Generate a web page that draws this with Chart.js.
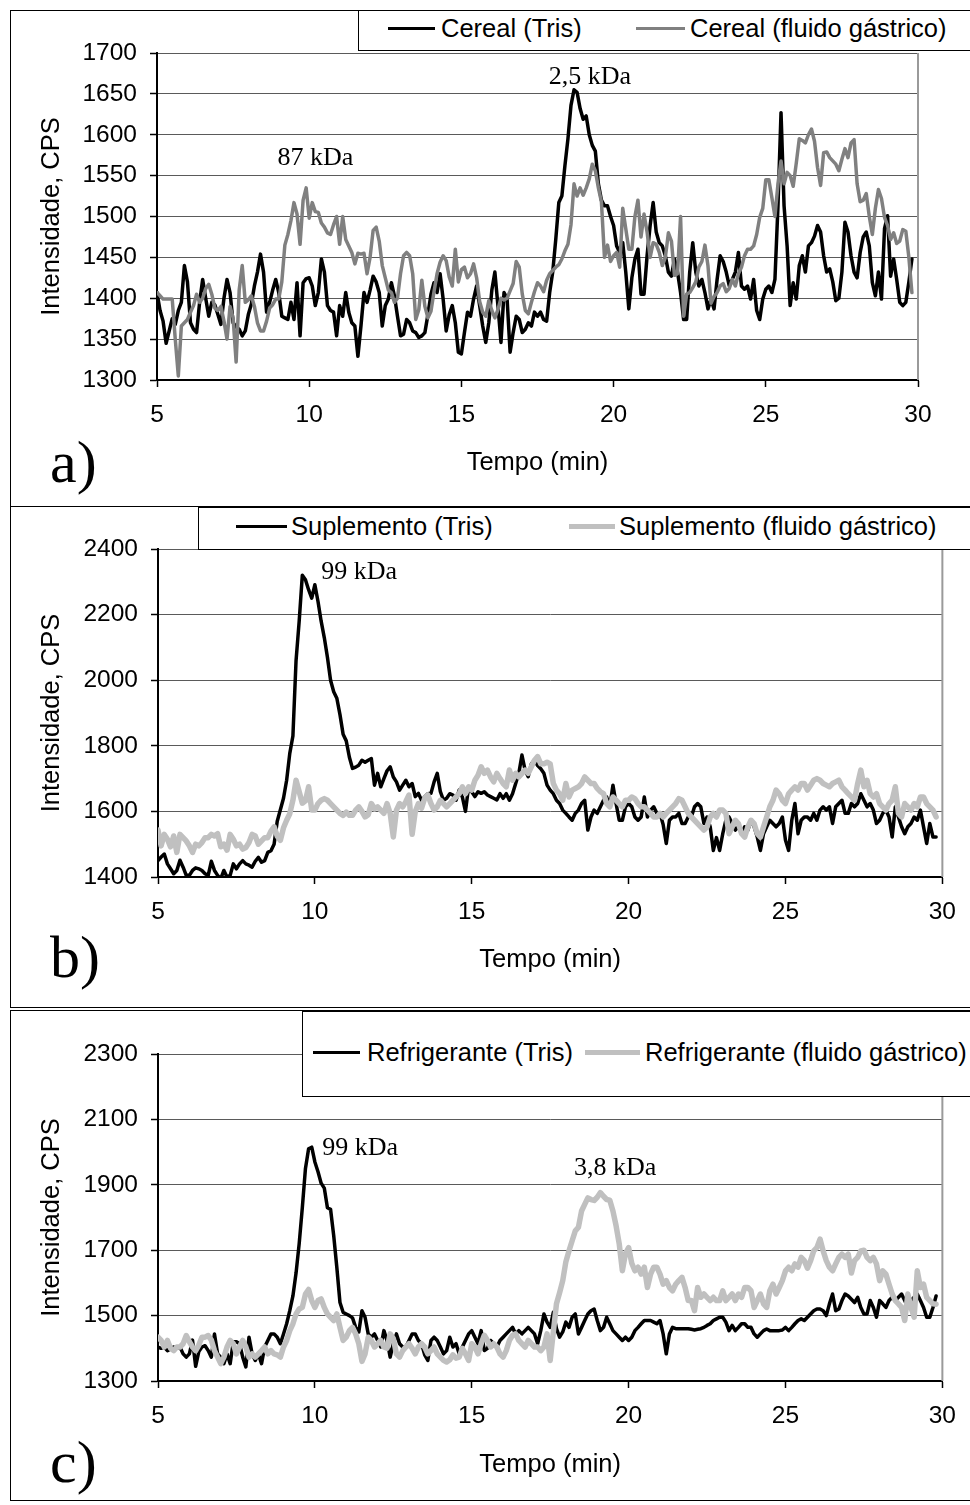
<!DOCTYPE html>
<html><head><meta charset="utf-8">
<script src="https://cdn.jsdelivr.net/npm/chart.js@4.4.1/dist/chart.umd.min.js"></script>
<style>
html,body{margin:0;padding:0;background:#fff;}
body{width:970px;height:1505px;position:relative;overflow:hidden;font-family:"Liberation Sans",Arial,sans-serif;}
.panel{position:absolute;left:10px;width:975px;border:1.5px solid #000;background:#fff;box-sizing:border-box;}
canvas{position:absolute;left:0;}
.legend{position:absolute;background:#fff;border:1px solid #000;box-sizing:border-box;width:900px;}
.ln{position:absolute;}
.lt{position:absolute;font-size:25.5px;line-height:30px;white-space:nowrap;color:#000;}
.tag{position:absolute;font-family:"Liberation Serif","Times New Roman",serif;font-size:60px;line-height:60px;color:#000;}
</style>
</head><body>
<div class="panel" style="top:10px;height:497px;"></div>
<div class="panel" style="top:506px;height:502px;"></div>
<div class="panel" style="top:1010px;height:491px;"></div>

<canvas id="ca" width="970" height="495" style="top:10px;"></canvas>
<canvas id="cb" width="970" height="500" style="top:507px;"></canvas>
<canvas id="cc" width="970" height="490" style="top:1010px;"></canvas>

<div class="legend" style="left:358px;top:10px;height:41px;"></div>
<div class="ln" style="left:388px;top:27px;width:47px;height:3px;background:#000;"></div>
<div class="lt" style="left:441px;top:13px;">Cereal (Tris)</div>
<div class="ln" style="left:636px;top:27px;width:49px;height:3px;background:#808080;"></div>
<div class="lt" style="left:690px;top:13px;">Cereal (fluido gástrico)</div>

<div class="legend" style="left:198px;top:507px;height:43px;"></div>
<div class="ln" style="left:236px;top:525px;width:51px;height:3px;background:#000;"></div>
<div class="lt" style="left:291px;top:511px;">Suplemento (Tris)</div>
<div class="ln" style="left:569px;top:524px;width:46px;height:5px;background:#c0c0c0;"></div>
<div class="lt" style="left:619px;top:511px;">Suplemento (fluido gástrico)</div>

<div class="legend" style="left:302px;top:1011px;height:86px;"></div>
<div class="ln" style="left:313px;top:1051px;width:47px;height:3px;background:#000;"></div>
<div class="lt" style="left:367px;top:1037px;">Refrigerante (Tris)</div>
<div class="ln" style="left:585px;top:1050px;width:55px;height:5px;background:#c0c0c0;"></div>
<div class="lt" style="left:645px;top:1037px;">Refrigerante (fluido gástrico)</div>

<div class="tag" style="left:50px;top:432px;">a)</div>
<div class="tag" style="left:50px;top:927px;">b)</div>
<div class="tag" style="left:50px;top:1432px;">c)</div>

<script>
// ---- sampling of the chromatograms (minutes) ----
const sampleStart = 5.0;
const sampleStep = 0.1;
const xTicks = [5, 10, 15, 20, 25, 30];
const yTicksA = [1300, 1350, 1400, 1450, 1500, 1550, 1600, 1650, 1700];
const yTicksB = [1400, 1600, 1800, 2000, 2200, 2400];
const yTicksC = [1300, 1500, 1700, 1900, 2100, 2300];

// ---- a) Cereal ----
const cerealTris = [
1407,1385,1372,1345,1360,1375,1368,1385,1395,1440,
1420,1370,1362,1358,1395,1423,1400,1378,1395,1392,
1380,1368,1400,1423,1407,1370,1365,1362,1354,1360,
1380,1393,1415,1432,1454,1432,1383,1395,1410,1423,
1407,1378,1376,1374,1395,1374,1419,1354,1419,1424,
1425,1415,1391,1407,1448,1432,1391,1385,1383,1354,
1391,1378,1407,1383,1370,1366,1329,1366,1407,1395,
1410,1427,1420,1407,1366,1391,1399,1419,1403,1378,
1354,1356,1374,1370,1360,1358,1352,1354,1358,1380,
1405,1419,1407,1430,1399,1360,1380,1391,1370,1334,
1332,1358,1383,1378,1399,1415,1391,1366,1346,1370,
1410,1432,1391,1346,1407,1400,1334,1358,1378,1374,
1358,1362,1370,1366,1383,1378,1383,1374,1372,1407,
1432,1472,1517,1525,1562,1595,1636,1655,1652,1632,
1619,1623,1600,1587,1580,1540,1520,1513,1513,1500,
1489,1464,1456,1468,1432,1387,1425,1448,1460,1405,
1405,1452,1489,1517,1481,1468,1464,1452,1432,1427,
1448,1432,1407,1374,1374,1432,1468,1432,1415,1423,
1407,1387,1399,1387,1423,1452,1445,1432,1415,1423,
1432,1456,1415,1411,1415,1399,1423,1385,1374,1399,
1411,1415,1407,1423,1513,1627,1513,1464,1391,1419,
1399,1440,1452,1432,1464,1468,1476,1489,1481,1452,
1432,1436,1420,1397,1400,1432,1493,1481,1452,1432,
1425,1456,1475,1481,1464,1419,1403,1432,1399,1485,
1501,1427,1448,1423,1395,1391,1395,1420,1448];
const cerealGastrico = [
1407,1403,1399,1399,1399,1399,1350,1305,1366,1370,
1374,1383,1391,1405,1395,1400,1412,1417,1405,1388,
1385,1390,1372,1350,1390,1376,1322,1410,1440,1395,
1398,1403,1390,1370,1360,1360,1372,1388,1392,1399,
1399,1420,1465,1478,1495,1517,1503,1466,1520,1535,
1498,1517,1506,1505,1492,1487,1480,1478,1490,1500,
1466,1500,1472,1464,1456,1442,1455,1454,1455,1430,
1450,1483,1487,1470,1440,1425,1410,1407,1395,1400,
1430,1452,1456,1452,1430,1374,1386,1422,1390,1376,
1384,1408,1430,1444,1452,1446,1426,1415,1460,1420,
1435,1438,1425,1430,1442,1425,1396,1383,1378,1397,
1385,1376,1386,1400,1398,1400,1409,1418,1445,1438,
1405,1385,1381,1395,1408,1419,1415,1408,1422,1430,
1434,1438,1441,1448,1458,1466,1490,1540,1525,1535,
1526,1535,1546,1564,1556,1535,1518,1450,1465,1445,
1452,1456,1438,1510,1485,1460,1460,1500,1520,1475,
1503,1481,1450,1468,1466,1456,1440,1450,1480,1470,
1428,1430,1500,1378,1405,1407,1413,1420,1438,1445,
1465,1440,1394,1402,1407,1415,1418,1408,1412,1423,
1415,1430,1438,1452,1460,1460,1464,1478,1499,1510,
1545,1545,1523,1500,1540,1568,1540,1554,1550,1537,
1565,1595,1593,1590,1600,1607,1592,1560,1538,1578,
1579,1572,1568,1564,1556,1570,1583,1572,1590,1594,
1540,1518,1520,1528,1500,1478,1510,1533,1522,1499,
1489,1472,1480,1467,1470,1484,1482,1450,1407];

// ---- b) Suplemento ----
const suplementoTris = [
1450,1461,1470,1440,1425,1410,1420,1451,1430,1405,
1405,1420,1428,1425,1420,1410,1405,1448,1420,1405,
1395,1420,1400,1405,1440,1425,1440,1450,1440,1436,
1430,1448,1460,1445,1450,1475,1480,1500,1570,1605,
1640,1695,1777,1830,2060,2180,2320,2306,2276,2250,
2291,2240,2180,2130,2070,2000,1965,1945,1895,1835,
1815,1765,1731,1735,1741,1756,1750,1756,1761,1680,
1716,1675,1700,1724,1736,1705,1690,1665,1680,1695,
1675,1685,1645,1655,1634,1644,1654,1655,1690,1716,
1660,1634,1640,1654,1650,1634,1665,1644,1600,1675,
1660,1645,1660,1655,1660,1650,1645,1640,1635,1654,
1640,1654,1634,1654,1685,1716,1772,1726,1706,1745,
1756,1740,1730,1716,1680,1665,1654,1634,1624,1604,
1594,1583,1573,1594,1604,1624,1634,1543,1583,1604,
1594,1614,1634,1644,1614,1680,1624,1573,1573,1614,
1624,1614,1583,1573,1583,1644,1583,1604,1614,1594,
1594,1560,1502,1573,1583,1583,1594,1563,1563,1583,
1583,1614,1624,1614,1563,1583,1553,1481,1520,1481,
1532,1573,1583,1563,1543,1553,1532,1553,1543,1573,
1553,1522,1481,1532,1553,1573,1563,1553,1563,1583,
1512,1481,1573,1624,1532,1573,1583,1583,1573,1594,
1573,1604,1614,1604,1614,1563,1614,1624,1634,1594,
1594,1624,1614,1624,1654,1634,1614,1624,1604,1563,
1573,1594,1604,1583,1522,1614,1583,1553,1532,1553,
1563,1583,1573,1604,1553,1502,1563,1522,1522];
const suplementoGastrico = [
1543,1495,1530,1515,1492,1525,1475,1530,1520,1510,
1495,1475,1500,1495,1505,1520,1520,1530,1525,1532,
1492,1500,1482,1530,1515,1495,1500,1485,1490,1505,
1530,1525,1500,1510,1520,1520,1540,1553,1525,1512,
1550,1573,1593,1634,1695,1660,1625,1632,1675,1604,
1604,1624,1634,1639,1634,1624,1614,1604,1594,1588,
1598,1588,1588,1604,1614,1600,1583,1590,1624,1608,
1614,1604,1594,1624,1594,1522,1604,1624,1614,1630,
1650,1530,1600,1624,1610,1640,1650,1624,1604,1614,
1634,1624,1614,1624,1634,1644,1654,1675,1654,1675,
1665,1695,1710,1736,1716,1726,1705,1690,1716,1700,
1685,1675,1726,1695,1716,1705,1716,1726,1716,1736,
1756,1767,1745,1745,1750,1745,1685,1665,1654,1634,
1685,1644,1665,1670,1675,1685,1705,1695,1685,1685,
1670,1660,1654,1624,1614,1644,1634,1624,1614,1634,
1634,1644,1639,1624,1614,1614,1604,1594,1583,1583,
1594,1583,1594,1604,1614,1624,1639,1634,1614,1594,
1583,1573,1563,1553,1543,1553,1583,1594,1583,1604,
1604,1594,1532,1553,1573,1563,1532,1522,1553,1573,
1563,1532,1522,1553,1583,1614,1634,1665,1654,1634,
1624,1654,1665,1675,1665,1685,1685,1665,1680,1695,
1700,1695,1685,1680,1675,1685,1690,1695,1675,1665,
1654,1644,1634,1685,1726,1675,1695,1654,1644,1654,
1624,1614,1604,1624,1634,1675,1594,1583,1624,1614,
1604,1624,1614,1644,1644,1624,1614,1604,1583];

// ---- c) Refrigerante ----
const refrigeranteTris = [
1404,1400,1404,1393,1398,1404,1400,1404,1383,1373,
1383,1425,1345,1390,1404,1408,1393,1373,1444,1383,
1373,1353,1383,1353,1420,1420,1414,1373,1343,1434,
1383,1363,1383,1353,1404,1424,1444,1444,1434,1414,
1444,1475,1515,1560,1630,1720,1830,1950,2010,2015,
1970,1940,1905,1890,1830,1825,1745,1647,1540,1510,
1505,1500,1493,1464,1450,1515,1495,1444,1434,1444,
1424,1404,1454,1424,1373,1414,1444,1414,1404,1404,
1424,1444,1444,1424,1414,1380,1363,1424,1434,1424,
1404,1383,1393,1434,1404,1414,1383,1404,1424,1444,
1454,1434,1414,1454,1393,1400,1424,1414,1404,1424,
1434,1444,1454,1464,1444,1454,1444,1454,1464,1454,
1444,1414,1454,1505,1480,1464,1510,1460,1434,1450,
1480,1464,1495,1505,1444,1464,1485,1505,1515,1520,
1485,1454,1464,1495,1475,1454,1444,1434,1424,1434,
1424,1434,1454,1464,1475,1485,1485,1485,1480,1475,
1485,1444,1383,1444,1464,1460,1460,1460,1460,1460,
1458,1456,1458,1460,1464,1470,1475,1485,1490,1495,
1495,1480,1454,1470,1454,1464,1475,1475,1464,1464,
1444,1434,1444,1454,1459,1454,1454,1454,1454,1456,
1464,1454,1464,1475,1485,1490,1485,1495,1505,1515,
1520,1520,1515,1500,1536,1566,1515,1520,1546,1566,
1560,1550,1540,1556,1525,1505,1505,1546,1525,1495,
1546,1536,1525,1546,1556,1546,1556,1566,1546,1525,
1546,1556,1566,1546,1525,1495,1495,1525,1560];
const refrigeranteGastrico = [
1434,1424,1404,1424,1400,1393,1404,1404,1414,1439,
1420,1404,1393,1410,1434,1434,1439,1425,1393,1373,
1353,1373,1404,1424,1414,1383,1404,1424,1404,1373,
1383,1373,1383,1393,1404,1383,1393,1383,1380,1373,
1404,1424,1454,1475,1505,1520,1525,1566,1580,1546,
1525,1546,1551,1525,1505,1495,1485,1505,1464,1424,
1434,1454,1464,1444,1414,1360,1383,1434,1424,1404,
1414,1424,1404,1400,1444,1430,1383,1373,1393,1404,
1414,1400,1383,1404,1414,1404,1383,1393,1404,1383,
1373,1363,1358,1365,1380,1370,1373,1400,1383,1363,
1414,1404,1383,1414,1440,1424,1404,1414,1404,1383,
1373,1393,1424,1440,1444,1424,1414,1404,1424,1414,
1404,1404,1393,1404,1444,1363,1450,1536,1570,1607,
1665,1698,1729,1759,1770,1820,1840,1860,1855,1852,
1862,1876,1865,1855,1853,1820,1775,1720,1637,1690,
1708,1660,1637,1648,1627,1648,1586,1627,1648,1648,
1627,1596,1607,1586,1576,1596,1607,1617,1586,1546,
1546,1515,1586,1556,1566,1556,1546,1556,1546,1546,
1576,1546,1556,1566,1546,1566,1556,1586,1586,1576,
1525,1546,1566,1536,1525,1576,1596,1566,1586,1607,
1637,1648,1637,1658,1648,1678,1668,1645,1668,1698,
1708,1734,1698,1668,1648,1637,1658,1678,1688,1678,
1688,1630,1668,1678,1698,1700,1678,1668,1678,1658,
1607,1637,1627,1596,1566,1546,1536,1525,1485,1566,
1525,1495,1637,1586,1596,1556,1546,1536,1535];

// ---- peak annotations (time, intensity, text) ----
const notesA = [{t: 10.2, v: 1571, text: '87 kDa'}, {t: 19.22, v: 1670, text: '2,5 kDa'}];
const notesB = [{t: 11.41, v: 2330, text: '99 kDa'}];
const notesC = [{t: 11.44, v: 2012, text: '99 kDa'}, {t: 19.57, v: 1951, text: '3,8 kDa'}];

const FONT = '"Liberation Sans", Arial, sans-serif';
const SERIF = '"Liberation Serif", "Times New Roman", serif';

function decorPlugin(notes, xTitleOffset) {
  return {
    id: 'decor',
    beforeDatasetsDraw(chart) {
      const {ctx, chartArea: a} = chart;
      ctx.save();
      ctx.strokeStyle = '#9a9a9a';
      ctx.lineWidth = 2;
      ctx.beginPath();
      ctx.moveTo(a.right, a.top);
      ctx.lineTo(a.right, a.bottom);
      ctx.stroke();
      ctx.restore();
    },
    afterDraw(chart) {
      const {ctx, chartArea: a, scales} = chart;
      ctx.save();
      ctx.fillStyle = '#000';
      ctx.font = '25.5px ' + FONT;
      ctx.textAlign = 'center';
      ctx.textBaseline = 'middle';
      ctx.fillText('Tempo (min)', (a.left + a.right) / 2, a.bottom + xTitleOffset);
      ctx.translate(52, (a.top + a.bottom) / 2);
      ctx.rotate(-Math.PI / 2);
      ctx.fillText('Intensidade, CPS', 0, 0);
      ctx.restore();
      ctx.save();
      ctx.fillStyle = '#000';
      ctx.font = '26px ' + SERIF;
      ctx.textAlign = 'center';
      ctx.textBaseline = 'middle';
      for (const n of notes) {
        ctx.fillText(n.text, scales.x.getPixelForValue(n.t), scales.y.getPixelForValue(n.v));
      }
      ctx.restore();
    }
  };
}

function makeChart(id, cfg) {
  const n = cfg.series[0].values.length;
  const times = [];
  for (let i = 0; i < n; i++) times.push(Math.round((sampleStart + i * sampleStep) * 100) / 100);
  const yt = cfg.yTicks;
  new Chart(document.getElementById(id), {
    type: 'line',
    data: {
      datasets: cfg.series.map(s => ({
        label: s.label,
        data: s.values.map((v, i) => ({x: times[i], y: v})),
        borderColor: s.color,
        borderWidth: s.width,
        pointRadius: 0,
        tension: 0,
        fill: false,
        order: s.order,
        borderJoinStyle: 'round',
        borderCapStyle: 'round'
      }))
    },
    options: {
      responsive: false,
      animation: false,
      devicePixelRatio: 1,
      events: [],
      layout: {padding: {left: 0, right: cfg.padRight, top: cfg.padTop, bottom: 0}},
      plugins: {legend: {display: false}, tooltip: {enabled: false}},
      scales: {
        x: {
          type: 'linear',
          min: xTicks[0], max: xTicks[xTicks.length - 1],
          afterFit(s) { s.height = cfg.xHeight; },
          afterBuildTicks(s) { s.ticks = xTicks.map(v => ({value: v})); },
          ticks: {color: '#000', font: {family: FONT, size: 24.5}, padding: 14, maxRotation: 0, autoSkip: false,
                  callback: v => String(v)},
          grid: {drawOnChartArea: false, drawTicks: true, tickLength: 7, tickColor: '#000', tickWidth: 1.5},
          border: {display: true, color: '#000', width: 2}
        },
        y: {
          type: 'linear',
          min: yt[0], max: yt[yt.length - 1],
          afterFit(s) { s.width = cfg.yWidth; },
          afterBuildTicks(s) { s.ticks = yt.map(v => ({value: v})); },
          ticks: {color: '#000', font: {family: FONT, size: 24.5}, padding: 13, callback: v => String(v)},
          grid: {color: '#5a5a5a', lineWidth: 1, drawTicks: true, tickLength: 7, tickColor: '#000', tickWidth: 1.5},
          border: {display: true, color: '#000', width: 2}
        }
      }
    },
    plugins: [decorPlugin(cfg.notes, cfg.xTitleOffset)]
  });
}

makeChart('ca', {
  yTicks: yTicksA, yWidth: 157, padTop: 43, padRight: 52, xHeight: 125, xTitleOffset: 83, notes: notesA,
  series: [
    {label: 'Cereal (Tris)', values: cerealTris, color: '#000000', width: 3.5, order: 1},
    {label: 'Cereal (fluido gástrico)', values: cerealGastrico, color: '#808080', width: 3.5, order: 0}
  ]
});
makeChart('cb', {
  yTicks: yTicksB, yWidth: 158, padTop: 42, padRight: 16, xHeight: 130, xTitleOffset: 83, notes: notesB,
  series: [
    {label: 'Suplemento (Tris)', values: suplementoTris, color: '#000000', width: 3.5, order: 1},
    {label: 'Suplemento (fluido gástrico)', values: suplementoGastrico, color: '#c0c0c0', width: 5.5, order: 0}
  ]
});
makeChart('cc', {
  yTicks: yTicksC, yWidth: 158, padTop: 44, padRight: 16, xHeight: 119, xTitleOffset: 84, notes: notesC,
  series: [
    {label: 'Refrigerante (Tris)', values: refrigeranteTris, color: '#000000', width: 3.5, order: 1},
    {label: 'Refrigerante (fluido gástrico)', values: refrigeranteGastrico, color: '#c0c0c0', width: 5.5, order: 0}
  ]
});
</script>
</body></html>
